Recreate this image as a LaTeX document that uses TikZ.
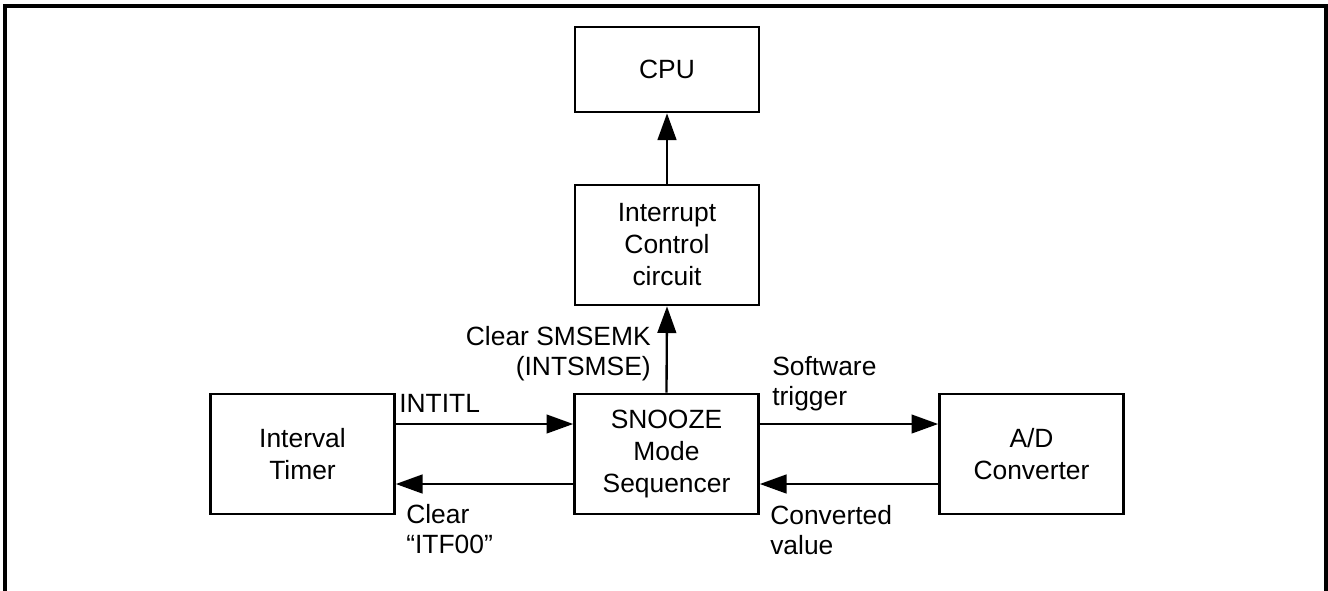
\documentclass[tikz,border=0pt]{standalone}
\usepackage{fontspec}
\setmainfont{Liberation Sans}
\usetikzlibrary{arrows.meta}
\begin{document}
\begin{tikzpicture}[x=0.75pt,y=-0.75pt,
  blk/.style={draw,line width=2pt,inner sep=0pt,align=center,
    minimum width=138pt,minimum height=90pt,font=\fontsize{19.8}{24}\selectfont},
  arr/.style={line width=1.75pt,-{Triangle[length=20pt,width=14pt]}},
  lbl/.style={inner sep=0pt,font=\fontsize{19.8}{23}\selectfont},
  frame/.style={line width=2.4pt}]
\useasboundingbox (0,0) rectangle (1328,590);
% outer frame (open at the bottom)
\coordinate (fbl) at (5,595);
\coordinate (ftl) at (5,6);
\coordinate (ftr) at (1326,6);
\coordinate (fbr) at (1326,595);
\draw[frame] (fbl) -- (ftl) -- (ftr) -- (fbr);
% blocks
\node[blk,minimum height=63.75pt] (cpu) at (667,69.5) {CPU};
\node[blk] (icc) at (667,245) {Interrupt\\Control\\circuit};
\node[blk] (snz) at (666.5,454) {SNOOZE\\Mode\\Sequencer};
\node[blk] (itm) at (302.5,454) {Interval\\Timer};
\node[blk] (adc) at (1031.5,454) {A/D\\Converter};
% levels of the horizontal connectors
\coordinate (ya) at (0,424);
\coordinate (yb) at (0,484);
% connectors
\draw[arr] (icc.north) -- (cpu.south);
\draw[arr] (snz.north) -- (icc.south);
\draw[arr] (itm.east |- ya) -- (snz.west |- ya);
\draw[arr] (snz.west |- yb) -- (itm.east |- yb);
\draw[arr] (snz.east |- ya) -- (adc.west |- ya);
\draw[arr] (adc.west |- yb) -- (snz.east |- yb);
% labels
\node[lbl,anchor=base west] (lintitl) at (399,412) {INTITL};
\node[lbl,anchor=base west] (lclr) at (406,523)
  {\begin{tabular}[t]{@{}l@{}}Clear\\“ITF00”\end{tabular}};
\node[lbl,anchor=base west] (lsw) at (772,375)
  {\begin{tabular}[t]{@{}l@{}}Software\\trigger\end{tabular}};
\node[lbl,anchor=base west] (lcv) at (770,524)
  {\begin{tabular}[t]{@{}l@{}}Converted\\value\end{tabular}};
\node[lbl,anchor=base east] (lsms) at (651,345)
  {\begin{tabular}[t]{@{}r@{}}Clear SMSEMK\\(INTSMSE)\end{tabular}};
\end{tikzpicture}
\end{document}
